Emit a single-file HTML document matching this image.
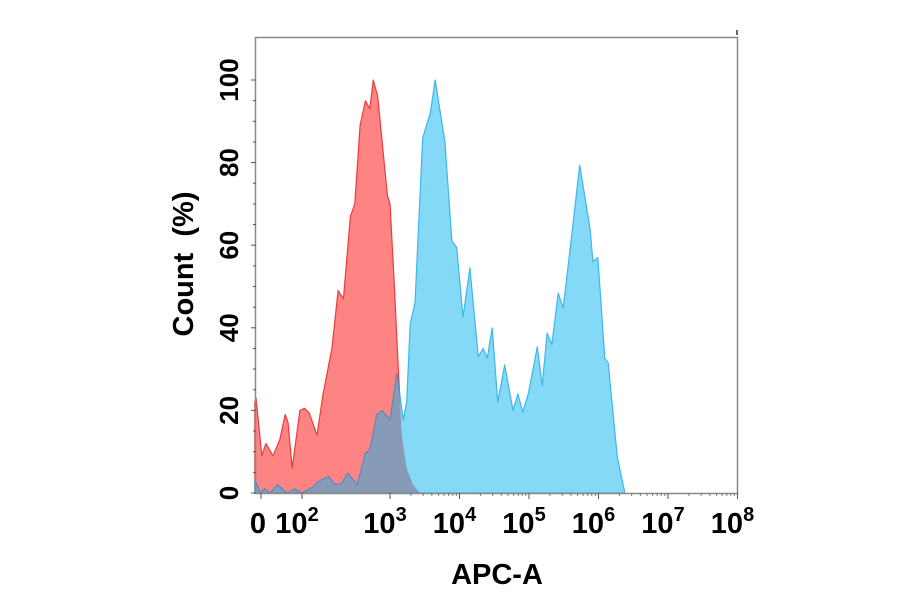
<!DOCTYPE html>
<html><head><meta charset="utf-8"><style>
html,body{margin:0;padding:0;background:#fff;}
svg{display:block;font-family:"Liberation Sans",Arial,sans-serif;font-weight:bold;}
</style></head><body>
<svg id="chart" width="900" height="594" viewBox="0 0 900 594" xmlns="http://www.w3.org/2000/svg">
<defs><clipPath id="redClip"><path id="redClipPath" d=""/></clipPath></defs>
<g id="plot"></g>
<rect x="255.5" y="37.5" width="482" height="456" fill="none" stroke="#8a8a8a" stroke-width="1.5"/>
<line x1="737" y1="30" x2="737" y2="35" stroke="#333" stroke-width="1.5"/>
<g id="yticks"></g>
<g id="xticks"></g>
<text transform="translate(193,264) rotate(-90)" text-anchor="middle" font-size="29" xml:space="preserve">Count  (%)</text>
<text x="497" y="584" text-anchor="middle" font-size="29">APC-A</text>
</svg>
<script>
// x values in log10 decades (1 = "0" anchor of biexponential scale)
const redX = [0.85,0.88,1.02,1.12,1.29,1.46,1.59,1.66,1.76,1.95,2.03,2.08,2.17,2.24,2.34,2.41,2.47,2.55,2.60,2.66,2.72,2.77,2.81,2.86,2.97,3.0,3.06,3.12,3.17,3.24,3.33,3.43];
const redY = [22,23,9,12,9,13,19,17,6,20,20.5,19.5,14,24,35,49,47,67,70,89,95,93,100,96,72,70,51,30,14,6,2,0];
const blueX = [0.85,0.88,0.98,1.10,1.22,1.41,1.63,1.83,2.0,2.13,2.18,2.30,2.38,2.45,2.52,2.63,2.72,2.77,2.85,2.91,3.0,3.10,3.19,3.24,3.29,3.36,3.47,3.58,3.65,3.79,3.89,3.96,4.05,4.15,4.27,4.34,4.40,4.47,4.55,4.65,4.77,4.84,4.91,4.99,5.12,5.19,5.26,5.33,5.42,5.49,5.59,5.73,5.88,5.92,5.99,6.09,6.14,6.27,6.38];
const blueY = [3,2.5,0.3,1,0,2,0,1,0,1.5,2.7,4,2,2.4,4.8,2,9.7,10.4,19,20,17.7,29,17.7,22,41,46,86,92,100,85,61,59.5,42.6,54.5,33,35,32.7,40,22,31,20,24,19.6,24,35.4,26,38.7,36,48.4,44.8,58.8,79.4,63.7,56,57,32.7,31.5,8.7,0];
const yTicks = [0,20,40,60,80,100];
const xTickVals = [1,2,3,4,5,6,7,8];
const xTickLabels = ["0","10","10","10","10","10","10","10"];
const xTickSups = ["","2","3","4","5","6","7","8"];

function xs(d){
  if(d<=2) return 261+(d-1)*41;
  if(d<=3) return 302+(d-2)*88;
  return 390+(d-3)*69.5;
}
function ys(v){ return 493-v*4.13; }
const NS="http://www.w3.org/2000/svg";
function areaPath(X,Y){
  let d="M"+xs(X[0])+","+ys(0);
  for(let i=0;i<X.length;i++) d+=" L"+xs(X[i]).toFixed(1)+","+ys(Y[i]).toFixed(1);
  d+=" L"+xs(X[X.length-1]).toFixed(1)+","+ys(0)+" Z";
  return d;
}
const plot=document.getElementById('plot');
const rd=areaPath(redX,redY), bd=areaPath(blueX,blueY);
document.getElementById('redClipPath').setAttribute('d',rd);
const red=document.createElementNS(NS,'path');


red.setAttribute('d',rd);red.setAttribute('fill','#fe8484');red.setAttribute('stroke','#f03a3a');red.setAttribute('stroke-width','1.2');red.setAttribute('stroke-linejoin','round');
plot.appendChild(red);
const blue=document.createElementNS(NS,'path');


blue.setAttribute('d',bd);blue.setAttribute('fill','#84d9f6');blue.setAttribute('stroke','#3fb6ea');blue.setAttribute('stroke-width','1.2');blue.setAttribute('stroke-linejoin','round');
plot.appendChild(blue);
const ov=document.createElementNS(NS,'path');


ov.setAttribute('d',bd);ov.setAttribute('fill','#879ab7');ov.setAttribute('clip-path','url(#redClip)');ov.setAttribute('stroke','#5b86b0');ov.setAttribute('stroke-width','1');
plot.appendChild(ov);

const yg=document.getElementById('yticks');
for(let v=0;v<=100;v+=5){
  const l=document.createElementNS(NS,'line');
  
  
  const big=v%20===0;
  l.setAttribute('x1',big?251:253);l.setAttribute('x2',256);l.setAttribute('y1',ys(v));l.setAttribute('y2',ys(v));
  l.setAttribute('stroke','#555');l.setAttribute('stroke-width','1');
  yg.appendChild(l);
}
yTicks.forEach(v=>{
  const t=document.createElementNS(NS,'text');
  
  
  t.setAttribute('transform','translate(238,'+ys(v)+') rotate(-90)');
  t.setAttribute('text-anchor','middle');t.setAttribute('font-size','26');
  t.textContent=v;yg.appendChild(t);
});
const xg=document.getElementById('xticks');
xTickVals.forEach((d,i)=>{
  const l=document.createElementNS(NS,'line');
  
  
  l.setAttribute('x1',xs(d));l.setAttribute('x2',xs(d));l.setAttribute('y1',493);l.setAttribute('y2',499);
  l.setAttribute('stroke','#555');xg.appendChild(l);
  if(d>=3&&d<8){for(let k=2;k<10;k++){const m=document.createElementNS(NS,'line');
    
    
    const px=xs(d+Math.log10(k));m.setAttribute('x1',px);m.setAttribute('x2',px);m.setAttribute('y1',493);m.setAttribute('y2',496);m.setAttribute('stroke','#777');xg.appendChild(m);}}
  const t=document.createElementNS(NS,'text');
  
  
  t.setAttribute('x',xs(d)+(xTickSups[i]?-5:-3));t.setAttribute('y',533);
  t.setAttribute('text-anchor','middle');t.setAttribute('font-size','29');
  t.textContent=xTickLabels[i];
  if(xTickSups[i]){const s=document.createElementNS(NS,'tspan');s.setAttribute('dy','-12');s.setAttribute('font-size','20');s.textContent=xTickSups[i];t.appendChild(s);}
  xg.appendChild(t);
});
</script>
</body></html>
